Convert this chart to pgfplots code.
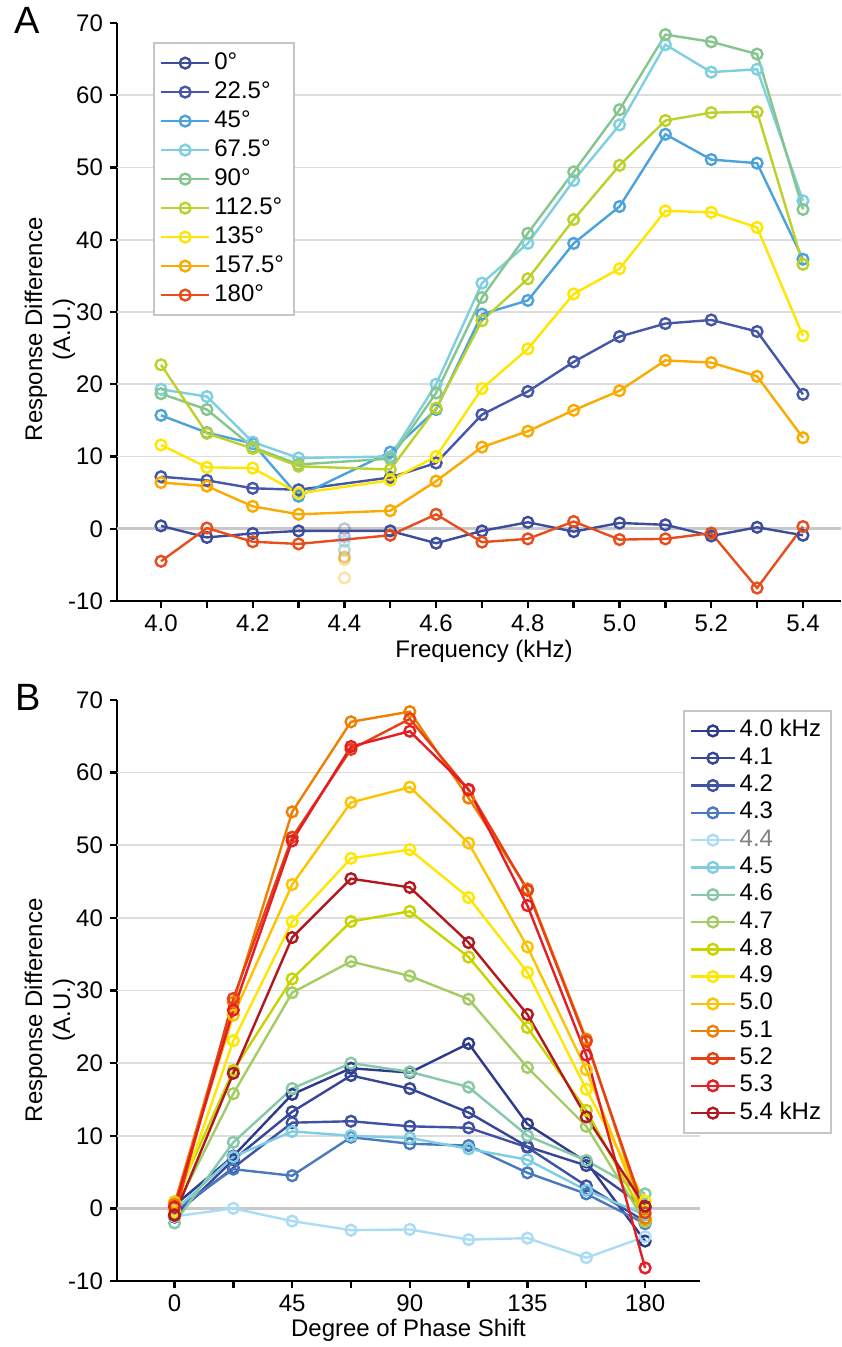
\documentclass[border=0pt]{standalone}
\usepackage{fontspec}
\setmainfont{Liberation Sans}
\usepackage{pgfplots}
\usepackage{pgfplotstable}
\pgfplotsset{compat=1.18}

% panel A colours (phase)
\definecolor{a0}{HTML}{3D4D9C}
\definecolor{a1}{HTML}{4557A6}
\definecolor{a2}{HTML}{4CA3DC}
\definecolor{a3}{HTML}{7ECFE0}
\definecolor{a4}{HTML}{86C68E}
\definecolor{a5}{HTML}{BCD22B}
\definecolor{a6}{HTML}{FFE600}
\definecolor{a7}{HTML}{FAAA00}
\definecolor{a8}{HTML}{E84E1B}
% panel B colours (frequency)
\definecolor{b40}{HTML}{2E3A8C}
\definecolor{b41}{HTML}{36479A}
\definecolor{b42}{HTML}{3F51A3}
\definecolor{b43}{HTML}{4A79BE}
\definecolor{b44}{HTML}{AADDF5}
\definecolor{b45}{HTML}{7ECDE0}
\definecolor{b46}{HTML}{86C8A8}
\definecolor{b47}{HTML}{A3CC64}
\definecolor{b48}{HTML}{C8D400}
\definecolor{b49}{HTML}{FFE600}
\definecolor{b50}{HTML}{FDC300}
\definecolor{b51}{HTML}{F07E00}
\definecolor{b52}{HTML}{E84014}
\definecolor{b53}{HTML}{E31E24}
\definecolor{b54}{HTML}{B2191E}
\definecolor{gridc}{HTML}{DDDDDD}
\definecolor{zeroc}{HTML}{C8C8C8}

% response by frequency (rows) and phase shift (columns); 4.4 kHz kept apart
\pgfplotstableread{
f   p0    p22  p45  p67  p90  p112 p135 p157 p180
4.0 0.4   7.2  15.7 19.3 18.7 22.7 11.6 6.4  -4.5
4.1 -1.2  6.7  13.3 18.3 16.5 13.2 8.5  5.9  0.1
4.2 -0.65 5.6  11.8 12.0 11.3 11.1 8.4  3.1  -1.8
4.3 -0.3  5.4  4.5  9.8  8.9  8.65 4.9  2.0  -2.1
4.5 -0.3  7.1  10.6 10.0 9.7  8.2  6.7  2.5  -0.9
4.6 -2.0  9.1  16.5 20.0 18.8 16.7 10.0 6.6  2.0
4.7 -0.3  15.8 29.7 34.0 32.0 28.8 19.4 11.3 -1.85
4.8 0.9   19.0 31.6 39.5 40.9 34.6 24.9 13.5 -1.4
4.9 -0.4  23.1 39.5 48.2 49.4 42.8 32.5 16.4 1.0
5.0 0.8   26.6 44.6 55.9 58.0 50.3 36.0 19.1 -1.5
5.1 0.55  28.4 54.6 67.0 68.4 56.5 44.0 23.3 -1.4
5.2 -1.0  28.9 51.1 63.2 67.4 57.6 43.8 23.0 -0.6
5.3 0.2   27.3 50.6 63.6 65.7 57.7 41.7 21.1 -8.2
5.4 -0.9  18.6 37.3 45.4 44.2 36.6 26.7 12.6 0.3
}\tA

% same data, by phase shift (rows) and frequency (columns)
\pgfplotstableread{
ph    f40  f41  f42   f43  f44   f45  f46  f47   f48  f49  f50  f51  f52  f53  f54
0     0.4  -1.2 -0.65 -0.3 -1.1  -0.3 -2.0 -0.3  0.9  -0.4 0.8  0.55 -1.0 0.2  -0.9
22.5  7.2  6.7  5.6   5.4  0.0   7.1  9.1  15.8  19.0 23.1 26.6 28.4 28.9 27.3 18.6
45    15.7 13.3 11.8  4.5  -1.75 10.6 16.5 29.7  31.6 39.5 44.6 54.6 51.1 50.6 37.3
67.5  19.3 18.3 12.0  9.8  -3.0  10.0 20.0 34.0  39.5 48.2 55.9 67.0 63.2 63.6 45.4
90    18.7 16.5 11.3  8.9  -2.9  9.7  18.8 32.0  40.9 49.4 58.0 68.4 67.4 65.7 44.2
112.5 22.7 13.2 11.1  8.65 -4.3  8.2  16.7 28.8  34.6 42.8 50.3 56.5 57.6 57.7 36.6
135   11.6 8.5  8.4   4.9  -4.1  6.7  10.0 19.4  24.9 32.5 36.0 44.0 43.8 41.7 26.7
157.5 6.4  5.9  3.1   2.0  -6.8  2.5  6.6  11.3  13.5 16.4 19.1 23.3 23.0 21.1 12.6
180   -4.5 0.1  -1.8  -2.1 -3.9  -0.9 2.0  -1.85 -1.4 1.0  -1.5 -1.4 -0.6 -8.2 0.3
}\tB

\pgfplotsset{
  panel/.style={
    scale only axis,
    axis x line=bottom, axis y line=left,
    axis line style={-, line width=1.4pt, black},
    tick align=outside, major tick length=3.5pt,
    tick style={line width=1.2pt, black},
    ymin=-10, ymax=70, ytick={-10,0,...,70},
    /pgf/number format/assume math mode=true,
    tick label style={font=\fontsize{12}{14}\selectfont},
    label style={font=\fontsize{12}{14}\selectfont},
    ylabel={Response Difference\\(A.U.)},
    ylabel style={align=center, anchor=center, rotate=0},
    every axis plot/.append style={line width=1.2pt, mark=o, mark size=2.7pt,
      mark options={solid, line width=1.2pt}},
    legend cell align=left,
    legend style={font=\fontsize{12}{14}\selectfont, draw=gray!45, line width=1pt,
      fill=white, anchor=north west, inner xsep=3pt, inner ysep=4pt,
      nodes={inner xsep=2pt, inner ysep=0.5pt, text height=8.5pt, text depth=2.5pt}},
  },
}

\begin{document}
\begin{tikzpicture}
\path[use as bounding box] (0,0) rectangle (420.5pt,-673.5pt);

% ---------------- A ----------------
\begin{axis}[panel,
  at={(58.5pt,-300.5pt)}, anchor=south west,
  width=362pt, height=289pt,
  xmin=3.904, xmax=5.483,
  xtick={4.0,4.1,4.2,4.3,4.4,4.5,4.6,4.7,4.8,4.9,5.0,5.1,5.2,5.3,5.4},
  xticklabels={4.0,,4.2,,4.4,,4.6,,4.8,,5.0,,5.2,,5.4},
  xlabel={Frequency (kHz)},
  xlabel style={at={(axis description cs:0.507,-0.0865)}, anchor=center},
  ylabel style={at={(axis description cs:-0.0925,0.47)}},
  legend style={at={(axis description cs:0.0497,0.967)}, row sep=2.5pt},
  legend image code/.code={\draw[mark repeat=2,mark phase=2,#1]
    plot coordinates {(0pt,0pt) (12pt,0pt) (24pt,0pt)};},
]
\pgfplotsinvokeforeach{10,20,30,40,50,60}{
  \draw[gridc, line width=0.8pt] (axis cs:3.904,#1) -- (axis cs:5.483,#1);}
\draw[zeroc, line width=1.5pt] (axis cs:3.904,0) -- (axis cs:5.483,0);
% 4.4 kHz points, shown faded
\addplot[forget plot, only marks, a0, opacity=0.35] coordinates {(4.4,-1.1)};
\addplot[forget plot, only marks, a1, opacity=0.35] coordinates {(4.4,0.0)};
\addplot[forget plot, only marks, a2, opacity=0.35] coordinates {(4.4,-1.75)};
\addplot[forget plot, only marks, a3, opacity=0.35] coordinates {(4.4,-3.0)};
\addplot[forget plot, only marks, a4, opacity=0.35] coordinates {(4.4,-2.9)};
\addplot[forget plot, only marks, a5, opacity=0.35] coordinates {(4.4,-4.3)};
\addplot[forget plot, only marks, a6, opacity=0.35] coordinates {(4.4,-4.1)};
\addplot[forget plot, only marks, a7, opacity=0.35] coordinates {(4.4,-6.8)};
\addplot[forget plot, only marks, a8, opacity=0.35] coordinates {(4.4,-3.9)};
\addplot[a0] table[x=f,y=p0]{\tA};
\addplot[a1] table[x=f,y=p22]{\tA};
\addplot[a2] table[x=f,y=p45]{\tA};
\addplot[a3] table[x=f,y=p67]{\tA};
\addplot[a4] table[x=f,y=p90]{\tA};
\addplot[a5] table[x=f,y=p112]{\tA};
\addplot[a6] table[x=f,y=p135]{\tA};
\addplot[a7] table[x=f,y=p157]{\tA};
\addplot[a8] table[x=f,y=p180]{\tA};
\legend{0°,22.5°,45°,67.5°,90°,112.5°,135°,157.5°,180°}
\end{axis}
\node[anchor=north west, inner sep=0pt, font=\fontsize{19}{22}\selectfont] at (7pt,-3.5pt) {A};

% ---------------- B ----------------
\begin{axis}[panel,
  at={(58.5pt,-640.5pt)}, anchor=south west,
  width=291.5pt, height=290.5pt,
  xmin=-22, xmax=201,
  xtick={0,22.5,45,67.5,90,112.5,135,157.5,180},
  xticklabels={0,,45,,90,,135,,180},
  xlabel={Degree of Phase Shift},
  xlabel style={at={(axis description cs:0.5,-0.0843)}, anchor=center},
  ylabel style={at={(axis description cs:-0.115,0.466)}},
  legend style={at={(axis description cs:0.971,0.983)}, row sep=1.65pt},
  legend image code/.code={\draw[mark repeat=2,mark phase=2,#1]
    plot coordinates {(0pt,0pt) (10.8pt,0pt) (21.6pt,0pt)};},
]
\pgfplotsinvokeforeach{10,20,30,40,50,60}{
  \draw[gridc, line width=0.8pt] (axis cs:-22,#1) -- (axis cs:201,#1);}
\draw[zeroc, line width=1.5pt] (axis cs:-22,0) -- (axis cs:201,0);
\addplot[b40] table[x=ph,y=f40]{\tB};
\addplot[b41] table[x=ph,y=f41]{\tB};
\addplot[b42] table[x=ph,y=f42]{\tB};
\addplot[b43] table[x=ph,y=f43]{\tB};
\addplot[b44] table[x=ph,y=f44]{\tB};
\addplot[b45] table[x=ph,y=f45]{\tB};
\addplot[b46] table[x=ph,y=f46]{\tB};
\addplot[b47] table[x=ph,y=f47]{\tB};
\addplot[b48] table[x=ph,y=f48]{\tB};
\addplot[b49] table[x=ph,y=f49]{\tB};
\addplot[b50] table[x=ph,y=f50]{\tB};
\addplot[b51] table[x=ph,y=f51]{\tB};
\addplot[b52] table[x=ph,y=f52]{\tB};
\addplot[b53] table[x=ph,y=f53]{\tB};
\addplot[b54] table[x=ph,y=f54]{\tB};
\legend{4.0 kHz,4.1,4.2,4.3,\textcolor{gray}{4.4},4.5,4.6,4.7,4.8,4.9,5.0,5.1,5.2,5.3,5.4 kHz}
\end{axis}
\node[anchor=north west, inner sep=0pt, font=\fontsize{19}{22}\selectfont] at (7.5pt,-342pt) {B};
\end{tikzpicture}
\end{document}
